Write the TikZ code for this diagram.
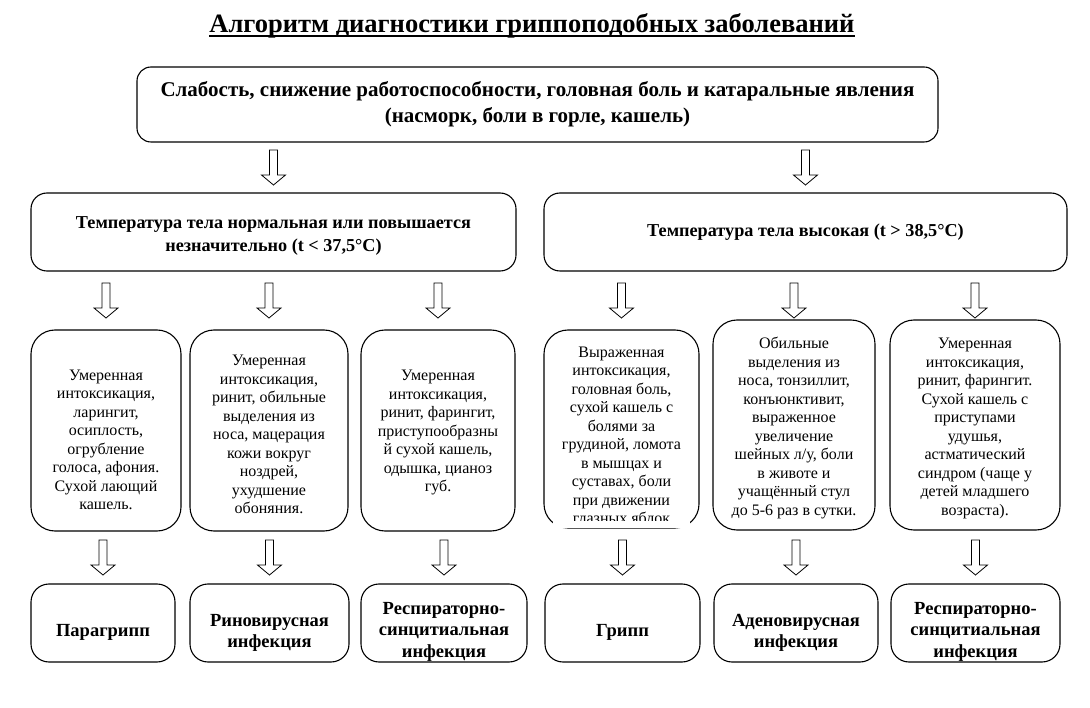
\documentclass[tikz,border=0pt]{standalone}
\usepackage{fontspec}
\setmainfont{Liberation Serif}
\usetikzlibrary{calc}

\tikzset{
	bloc/.style={draw, line width=1.1pt, rounded corners=#1, align=center, inner sep=2pt},
	bloc/.default=14pt,
	fleche/.pic={\draw[line width=0.8pt, fill=white] (-4,-35) -- (4,-35) -- (4,-10) -- (12,-10) -- (0,0) -- (-12,-10) -- (-4,-10) -- cycle;}
}

\begin{document}
\begin{tikzpicture}[x=1pt, y=-1pt]%algorithme grippe
	
	\useasboundingbox (0,0) rectangle (1090,708);
	
	\node[inner sep=0pt, anchor=base, font=\fontsize{26.5}{30}\selectfont\bfseries] (titre) at (532,33) {Алгоритм диагностики гриппоподобных заболеваний};
	\draw[line width=2pt] ($(titre.base west)+(0,3.5)$) -- ($(titre.base east)+(0,3.5)$);
	
	\node[bloc=14pt, minimum width=801pt, minimum height=75pt, font=\fontsize{21}{26}\selectfont\bfseries] (haut) at (537.5,104.5) {Слабость, снижение работоспособности, головная боль и катаральные явления\\(насморк, боли в горле, кашель)};
	
	\node[bloc=16pt, minimum width=485pt, minimum height=78pt, font=\fontsize{18.2}{23}\selectfont\bfseries] (tnorm) at (273.5,232) {\rule{0pt}{20pt}Температура тела нормальная или повышается\\незначительно (t < 37,5°C)};
	\node[bloc=16pt, minimum width=523pt, minimum height=78pt, font=\fontsize{18.2}{23}\selectfont\bfseries] (thaut) at (805.5,232) {Температура тела высокая (t > 38,5°C)};
	
	\tikzset{symp/.style={bloc=24pt, font=\fontsize{16}{18.5}\selectfont}}
	\node[symp, minimum width=150pt, minimum height=201pt] (s1) at (106,430.5) {\rule{0pt}{29pt}Умеренная\\интоксикация,\\ларингит,\\осиплость,\\огрубление\\голоса, афония.\\Сухой лающий\\кашель.};
	\node[symp, minimum width=158pt, minimum height=201pt] (s2) at (269,430.5) {\rule{0pt}{19pt}Умеренная\\интоксикация,\\ринит, обильные\\выделения из\\носа, мацерация\\кожи вокруг\\ноздрей,\\ухудшение\\обоняния.};
	\node[symp, minimum width=154pt, minimum height=201pt] (s3) at (438,430.5) {\rule{0pt}{15pt}Умеренная\\интоксикация,\\ринит, фарингит,\\приступообразны\\й сухой кашель,\\одышка, цианоз\\губ.};
	\node[symp, minimum width=155pt, minimum height=198pt] (s4) at (621.5,429) {\rule{0pt}{23pt}Выраженная\\интоксикация,\\головная боль,\\сухой кашель с\\болями за\\грудиной, ломота\\в мышцах и\\суставах, боли\\при движении\\глазных яблок};
	\node[symp, minimum width=162pt, minimum height=210pt] (s5) at (794,425) {\rule{0pt}{17pt}Обильные\\выделения из\\носа, тонзиллит,\\конъюнктивит,\\выраженное\\увеличение\\шейных л/у, боли\\в животе и\\учащённый стул\\до 5-6 раз в сутки.};
	\node[symp, minimum width=170pt, minimum height=210pt] (s6) at (975,425) {\rule{0pt}{17pt}Умеренная\\интоксикация,\\ринит, фарингит.\\Сухой кашель с\\приступами\\удушья,\\астматический\\синдром (чаще у\\детей младшего\\возраста).};
	
	% texte coupé en bas du bloc grippe
	\fill[white] ($(s4.south west)+(10,-8)$) rectangle ($(s4.south east)+(-10,-0.6)$);
	
	\tikzset{diag/.style={bloc=18pt, inner sep=0pt, minimum height=78pt, font=\fontsize{18.5}{21.5}\selectfont\bfseries}}
	\node[diag, minimum width=144pt] (d1) at (103,623) {\rule{0pt}{31pt}Парагрипп};
	\node[diag, minimum width=159pt] (d2) at (269.5,623) {\rule{0pt}{32pt}Риновирусная\\инфекция};
	\node[diag, minimum width=166pt] (d3) at (444,623) {\rule{0pt}{29pt}Респираторно-\\синцитиальная\\инфекция};
	\node[diag, minimum width=155pt] (d4) at (622.5,623) {\rule{0pt}{31pt}Грипп};
	\node[diag, minimum width=164pt] (d5) at (796,623) {\rule{0pt}{32pt}Аденовирусная\\инфекция};
	\node[diag, minimum width=169pt] (d6) at (975.5,623) {\rule{0pt}{29pt}Респираторно-\\синцитиальная\\инфекция};
	
	% fleches
	\path (tnorm.north |- 0,185) pic{fleche};
	\path (thaut.north |- 0,185) pic{fleche};
	\foreach \s in {s1,s2,s3,s4,s5,s6} {
		\path (\s.north |- 0,318) pic{fleche};}
	\foreach \d in {d1,d2,d3,d4,d5,d6} {
		\path (\d.north |- 0,575) pic{fleche};}
\end{tikzpicture}
\end{document}
